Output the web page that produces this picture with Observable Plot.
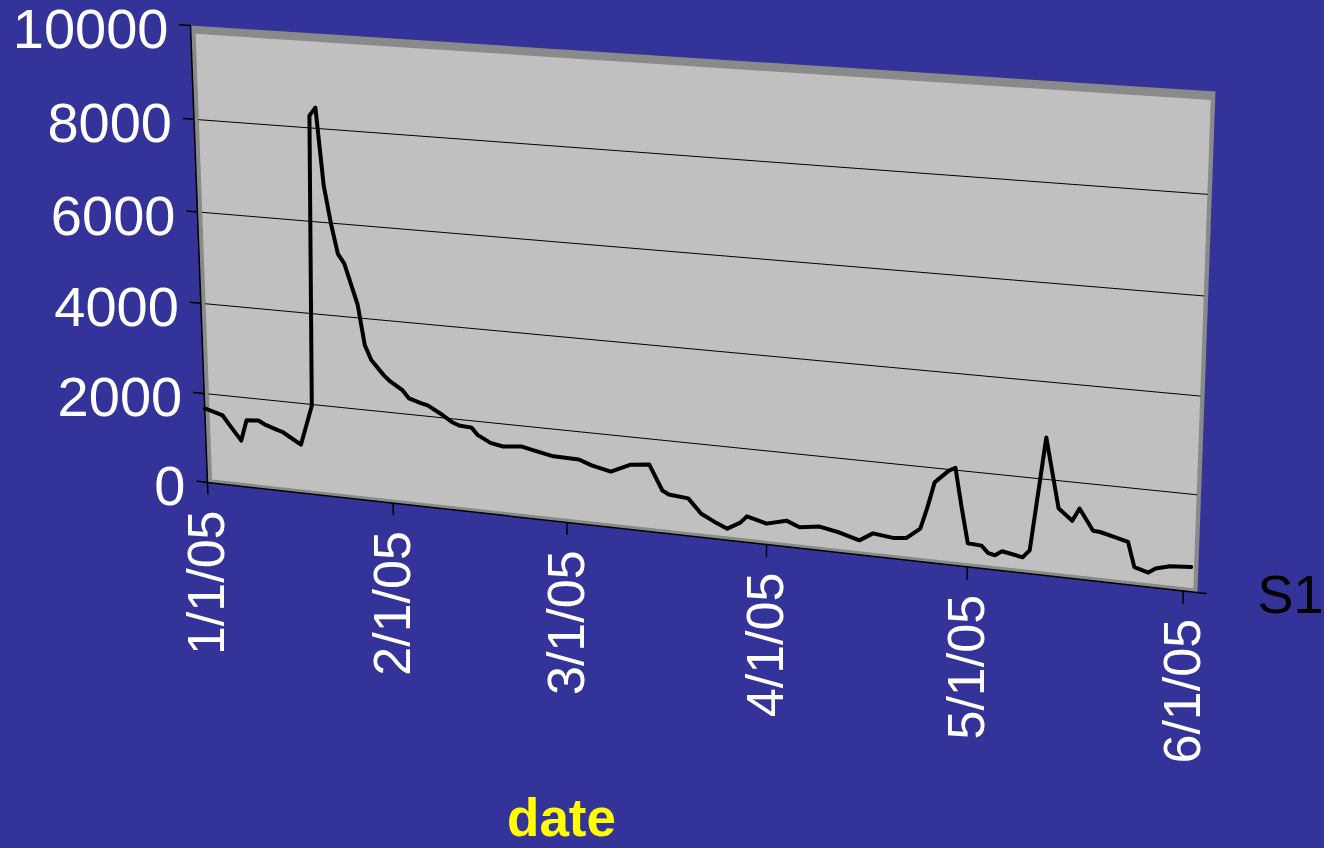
<!DOCTYPE html>
<html>
<head>
<meta charset="utf-8">
<script src="https://cdn.jsdelivr.net/npm/d3@7"></script>
<script src="https://cdn.jsdelivr.net/npm/@observablehq/plot@0.6"></script>
<style>
  html, body { margin: 0; padding: 0; background: #333399; }
  #chart { width: 1324px; height: 848px; }
</style>
</head>
<body>
<div id="chart"></div>
<script>
// ---------- data ----------
const dates = [
  "2005-01-01","2005-01-04","2005-01-05","2005-01-07","2005-01-08","2005-01-10","2005-01-11","2005-01-13","2005-01-14","2005-01-15",
  "2005-01-17","2005-01-19","2005-01-20","2005-01-21","2005-01-22","2005-01-23","2005-01-24","2005-01-25","2005-01-27","2005-01-28",
  "2005-01-29","2005-01-31","2005-02-01","2005-02-03","2005-02-04","2005-02-06","2005-02-07","2005-02-09","2005-02-11","2005-02-12",
  "2005-02-14","2005-02-15","2005-02-17","2005-02-19","2005-02-22","2005-02-24","2005-02-27","2005-03-03","2005-03-05","2005-03-08",
  "2005-03-11","2005-03-14","2005-03-16","2005-03-17","2005-03-20","2005-03-22","2005-03-24","2005-03-26","2005-03-28","2005-03-29",
  "2005-04-01","2005-04-04","2005-04-06","2005-04-09","2005-04-12","2005-04-15","2005-04-17","2005-04-20","2005-04-22","2005-04-24",
  "2005-04-25","2005-04-26","2005-04-28","2005-04-29","2005-04-30","2005-05-01","2005-05-03","2005-05-04","2005-05-05","2005-05-06",
  "2005-05-09","2005-05-10","2005-05-12","2005-05-14","2005-05-16","2005-05-17","2005-05-19","2005-05-20","2005-05-22","2005-05-24",
  "2005-05-25","2005-05-27","2005-05-28","2005-05-30","2005-06-02"
];
const values = [
  1670,1550,1370,1030,1500,1520,1450,1360,1320,1240,
  1080,1970,8260,8440,6790,5990,5350,5150,4290,3420,
  3110,2800,2680,2510,2350,2270,2240,2090,1920,1870,
  1850,1700,1560,1510,1550,1490,1410,1400,1300,1210,
  1400,1450,920,850,810,510,370,250,410,560,
  450,560,450,510,430,310,490,440,470,700,
  1160,1700,1970,2050,1240,500,480,340,310,410,
  330,490,2860,1430,1200,1470,1040,1030,960,890,
  380,300,400,480,510
];
const yTicks = [0, 2000, 4000, 6000, 8000, 10000];
const xTickDates = ["2005-01-01","2005-02-01","2005-03-01","2005-04-01","2005-05-01","2005-06-01"];
const xDomain = ["2005-01-01", "2005-06-03"];
const yDomain = [0, 10000];
const seriesName = "S1";
const xTitle = "date";

// ---------- helpers ----------
const t0 = Date.parse(xDomain[0]);
const dayOf = s => (Date.parse(s) - t0) / 864e5;
const span = dayOf(xDomain[1]);
const fmt = d3.utcFormat("%-m/%-d/%y");

// perspective of the back wall (layout): pixel corners of the plotting rectangle
const corner = {p00: [207, 482], p10: [1197, 592], p11: [1215, 91], p01: [190, 25]};
const H = (() => {
  const [x0, y0] = corner.p00, [x1, y1] = corner.p10, [x2, y2] = corner.p11, [x3, y3] = corner.p01;
  const dx1 = x1 - x2, dy1 = y1 - y2, dx2 = x3 - x2, dy2 = y3 - y2;
  const dx3 = x0 - x1 + x2 - x3, dy3 = y0 - y1 + y2 - y3;
  const den = dx1 * dy2 - dy1 * dx2;
  const g = (dx3 * dy2 - dy3 * dx2) / den, h = (dx1 * dy3 - dy1 * dx3) / den;
  const a = x1 - x0 + g * x1, b = x3 - x0 + h * x3, c = x0;
  const d = y1 - y0 + g * y1, e = y3 - y0 + h * y3, f = y0;
  return (u, v) => { const w = g * u + h * v + 1; return [(a * u + b * v + c) / w, (d * u + e * v + f) / w]; };
})();
const wallProjection = d3.geoTransform({
  point(x, y) {
    const [px, py] = H(x / span, (y - yDomain[0]) / (yDomain[1] - yDomain[0]));
    this.stream.point(px, py);
  }
});

const rows = dates.map((d, i) => ({day: dayOf(d), value: values[i]}));
const yMin = yDomain[0], yMax = yDomain[1];
const ring = (l, r, b, t) => ({type: "Polygon", coordinates: [[[l, b], [r, b], [r, t], [l, t], [l, b]]]});
const insetL = 0.8, insetR = 0.6, insetB = 80, insetT = 170;
const gridRows = yTicks.filter(v => v > yMin && v < yMax)
  .flatMap(v => [{day: insetL, value: v, k: v}, {day: span - insetR, value: v, k: v}]);
const axisRows = [
  {day: 0, value: yMax, k: "left"}, {day: 0, value: yMin, k: "left"},
  {day: 0, value: yMin, k: "floor"}, {day: span + 1.2, value: yMin, k: "floor"}
];

const chart = Plot.plot({
  width: 1324,
  height: 848,
  margin: 0,
  projection: wallProjection,
  style: {background: "#333399", fontFamily: "'Liberation Sans', Arial, sans-serif", overflow: "visible"},
  marks: [
    Plot.geo(ring(0, span, yMin, yMax), {fill: "#8a8a8a", stroke: "none"}),
    Plot.geo(ring(insetL, span - insetR, yMin + insetB, yMax - insetT), {fill: "#c0c0c0", stroke: "none"}),
    Plot.line(gridRows, {x: "day", y: "value", z: "k", stroke: "#000", strokeWidth: 1}),
    Plot.line(axisRows, {x: "day", y: "value", z: "k", stroke: "#000", strokeWidth: 1.5}),
    Plot.link(yTicks, {x1: () => -1.85, x2: () => 0, y1: d => d, y2: d => d, stroke: "#000", strokeWidth: 1.5}),
    Plot.link(xTickDates, {x1: dayOf, x2: dayOf, y1: () => yMin, y2: () => yMin - 270, stroke: "#000", strokeWidth: 1.5}),
    Plot.line(rows, {x: "day", y: "value", stroke: "#000", strokeWidth: 4, strokeLinejoin: "round"}),
    Plot.text(yTicks, {x: () => 0, y: d => d, text: d => String(d), textAnchor: "end", lineAnchor: "middle",
      dx: -22, dy: 5, fill: "#ffffff", fontSize: 56}),
    Plot.text(xTickDates, {x: dayOf, y: () => yMin, text: d => fmt(new Date(d)), rotate: -90, textAnchor: "end",
      lineAnchor: "middle", dy: 28, fill: "#ffffff", fontSize: 52}),
    Plot.text([seriesName], {x: () => span, y: () => yMin, text: d => d, textAnchor: "start", lineAnchor: "middle",
      dx: 60, dy: 3, fill: "#000000", fontSize: 54}),
    Plot.text([xTitle], {frameAnchor: "bottom", text: d => d, lineAnchor: "middle", dx: -101, dy: -29,
      fill: "#ffff00", fontWeight: "bold", fontSize: 53})
  ]
});
document.getElementById("chart").append(chart);
</script>
</body>
</html>
